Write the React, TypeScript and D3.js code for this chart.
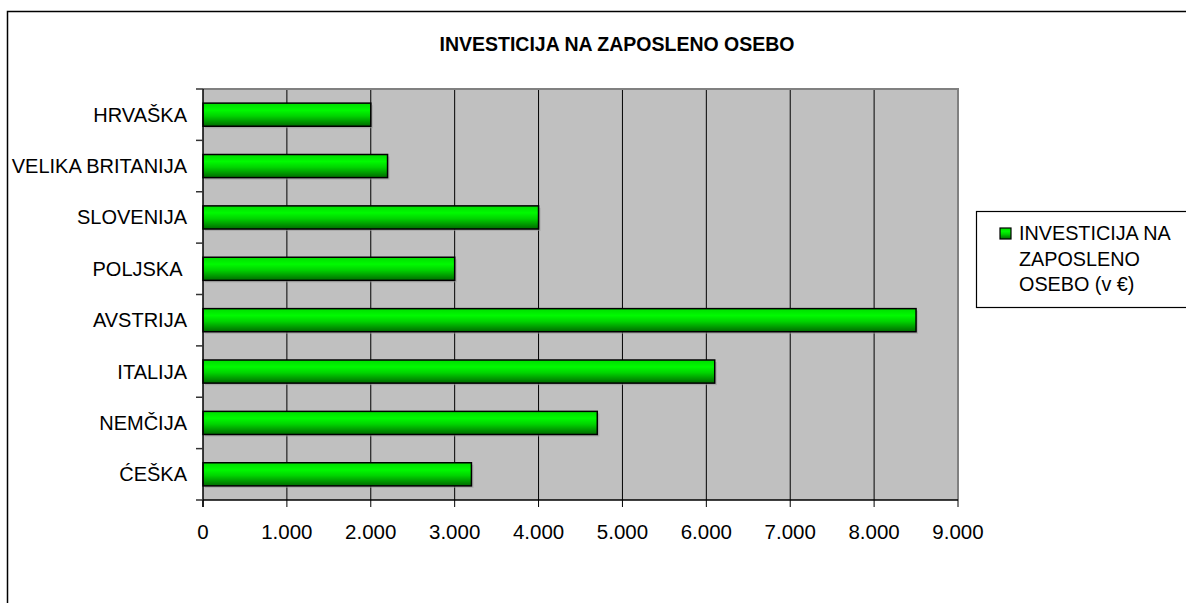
import * as d3 from "d3";

const TITLE = "INVESTICIJA NA ZAPOSLENO OSEBO";
const countries = [
  "HRVAŠKA",
  "VELIKA BRITANIJA",
  "SLOVENIJA",
  "POLJSKA ",
  "AVSTRIJA",
  "ITALIJA",
  "NEMČIJA",
  "ĆEŠKA",
];
const investment = [2000, 2200, 4000, 3000, 8500, 6100, 4700, 3200];
const xTicks = [0, 1000, 2000, 3000, 4000, 5000, 6000, 7000, 8000, 9000];
const legendLines = ["INVESTICIJA NA", "ZAPOSLENO", "OSEBO (v €)"];

const W = 1186;
const H = 603;
const PLOT = { left: 203, top: 89, right: 958, bottom: 500 };
const FONT = "'Liberation Sans', Arial, sans-serif";

const fmt = d3.formatLocale({
  decimal: ",",
  thousands: ".",
  grouping: [3],
  currency: ["", "€"],
}).format(",");

export default function App() {
  const x = d3.scaleLinear().domain([0, 9000]).range([PLOT.left, PLOT.right]);
  const y = d3
    .scaleBand<string>()
    .domain(countries)
    .range([PLOT.top, PLOT.bottom])
    .paddingInner(0.55)
    .paddingOuter(0.275);
  const step = y.step();

  return (
    <svg
      width={W}
      height={H}
      style={{ position: "absolute", left: 0, top: 0, background: "#fff" }}
    >
      <defs>
        <linearGradient id="barGrad" x1="0" y1="0" x2="0" y2="1">
          <stop offset="0%" stopColor="#00dc00" />
          <stop offset="30%" stopColor="#00fa00" />
          <stop offset="55%" stopColor="#00d400" />
          <stop offset="100%" stopColor="#006a00" />
        </linearGradient>
      </defs>

      {/* outer chart frame */}
      <rect x={7.5} y={11.5} width={1200} height={620} fill="none" stroke="#000" strokeWidth={1.5} />

      <text
        x={617}
        y={51}
        textAnchor="middle"
        fontFamily={FONT}
        fontWeight="bold"
        fontSize={19.5}
      >
        {TITLE}
      </text>

      {/* plot area */}
      <rect
        x={PLOT.left}
        y={PLOT.top}
        width={PLOT.right - PLOT.left}
        height={PLOT.bottom - PLOT.top}
        fill="#c0c0c0"
      />
      {xTicks.slice(1, -1).map((t) => (
        <line key={t} x1={x(t)} x2={x(t)} y1={PLOT.top} y2={PLOT.bottom} stroke="#000" strokeWidth={1} />
      ))}
      <polyline
        points={`${PLOT.left},${PLOT.top} ${PLOT.right},${PLOT.top} ${PLOT.right},${PLOT.bottom}`}
        fill="none"
        stroke="#808080"
        strokeWidth={2}
      />

      {/* bars */}
      {countries.map((c, i) => (
        <g key={c}>
          <rect
            x={x(0) + 2}
            y={(y(c) ?? 0) + 2}
            width={x(investment[i]) - x(0)}
            height={y.bandwidth()}
            fill="#9a9a9a"
            opacity={0.6}
          />
          <rect
            x={x(0)}
            y={y(c)}
            width={x(investment[i]) - x(0)}
            height={y.bandwidth()}
            fill="url(#barGrad)"
            stroke="#000"
            strokeWidth={1.5}
          />
        </g>
      ))}

      {/* y axis */}
      <line x1={PLOT.left} x2={PLOT.left} y1={PLOT.top} y2={PLOT.bottom + 7} stroke="#000" strokeWidth={1.5} />
      {d3.range(countries.length + 1).map((k) => (
        <line
          key={k}
          x1={PLOT.left - 7}
          x2={PLOT.left}
          y1={PLOT.top + k * step}
          y2={PLOT.top + k * step}
          stroke="#333"
          strokeWidth={1.5}
        />
      ))}
      {countries.map((c) => (
        <text
          key={c}
          x={187}
          y={(y(c) ?? 0) + y.bandwidth() / 2}
          dy="0.35em"
          textAnchor="end"
          fontFamily={FONT}
          fontSize={20}
          style={{ whiteSpace: "pre" }}
        >
          {c}
        </text>
      ))}

      {/* x axis */}
      <line x1={PLOT.left} x2={PLOT.right} y1={PLOT.bottom} y2={PLOT.bottom} stroke="#000" strokeWidth={1.5} />
      {xTicks.map((t) => (
        <g key={t}>
          <line x1={x(t)} x2={x(t)} y1={PLOT.bottom} y2={PLOT.bottom + 7} stroke="#000" strokeWidth={1} />
          <text
            x={x(t)}
            y={539}
            textAnchor="middle"
            fontFamily={FONT}
            fontSize={20.5}
          >
            {fmt(t)}
          </text>
        </g>
      ))}

      {/* legend */}
      <rect x={976.5} y={211.5} width={230} height={96} fill="#fff" stroke="#000" strokeWidth={1.2} />
      <rect x={1000} y={228} width={11} height={11} fill="url(#barGrad)" stroke="#000" strokeWidth={1.2} />
      {legendLines.map((l, i) => (
        <text key={l} x={1019} y={240 + i * 25.5} fontFamily={FONT} fontSize={19.8}>
          {l}
        </text>
      ))}
    </svg>
  );
}
